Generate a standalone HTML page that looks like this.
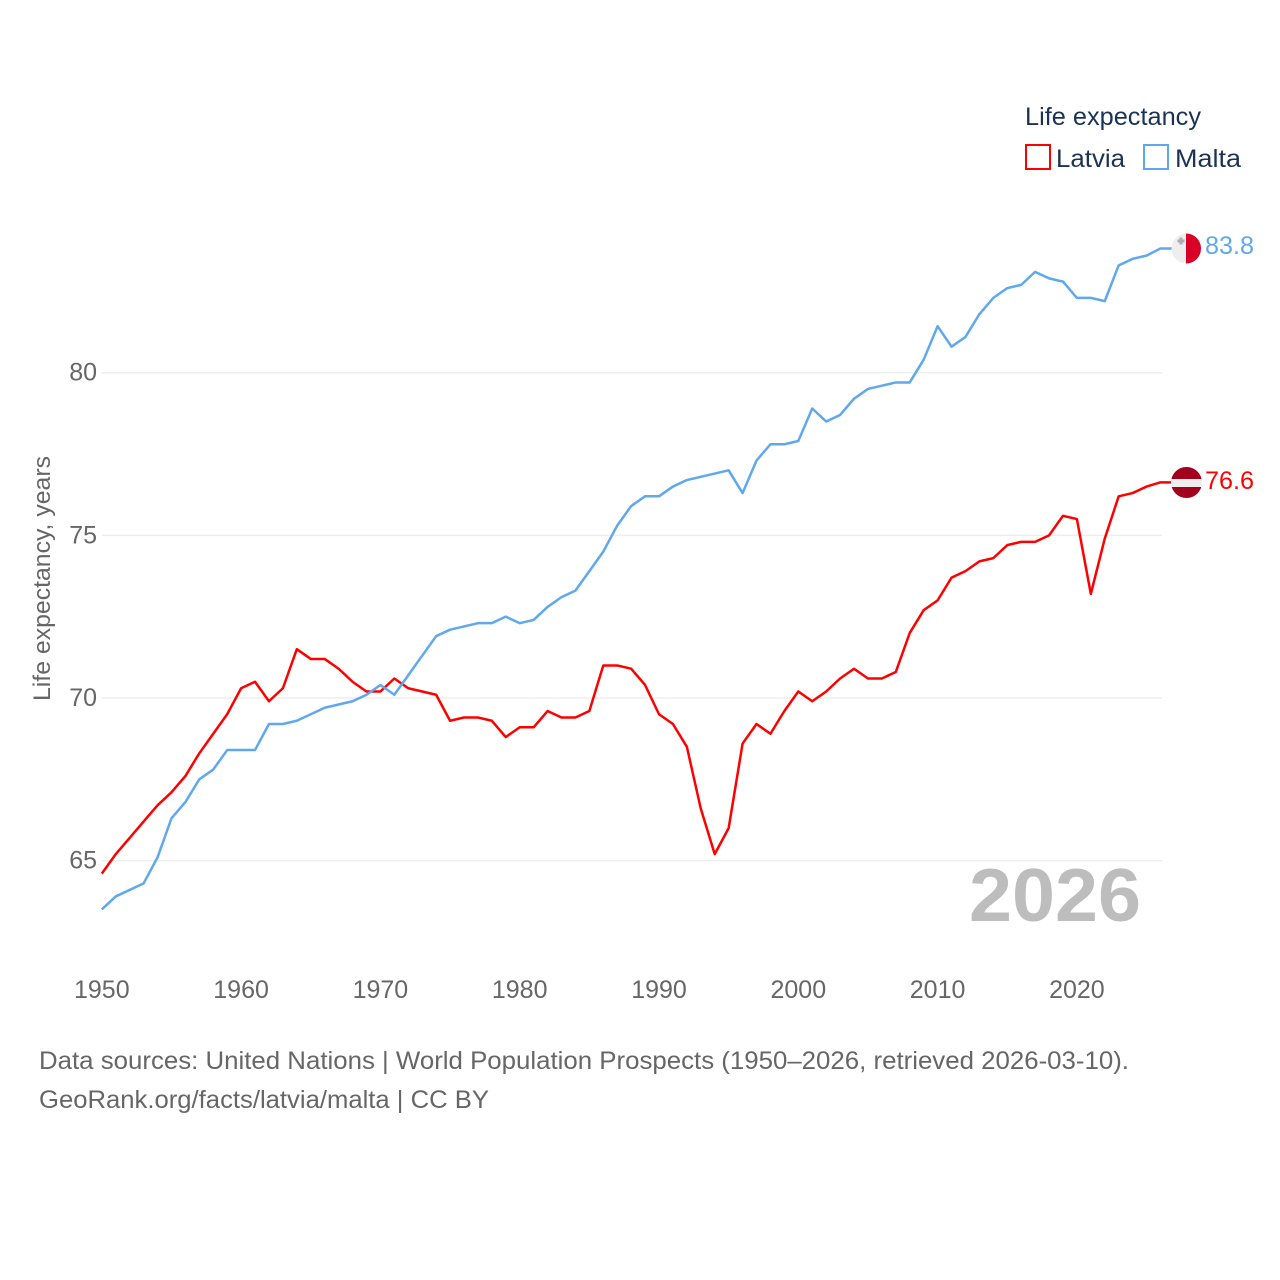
<!DOCTYPE html>
<html lang="en">
<head>
<meta charset="utf-8">
<title>Life expectancy: Latvia and Malta</title>
<style>
html,body{margin:0;padding:0;background:#fff;}
svg{display:block;font-family:"Liberation Sans",sans-serif;}
</style>
</head>
<body>
<svg id="chart" xmlns="http://www.w3.org/2000/svg" width="1280" height="1280" viewBox="0 0 1280 1280">
  <rect width="1280" height="1280" fill="#ffffff"/>
  <g id="grid"></g>
  <g id="yticks"></g>
  <g id="xticks"></g>
  <text transform="translate(50,701) rotate(-90)" font-size="24" fill="#666666" textLength="245" lengthAdjust="spacingAndGlyphs">Life expectancy, years</text>
  <text id="year-label" x="969" y="921" font-size="75" font-weight="700" fill="#bdbdbd" textLength="172" lengthAdjust="spacingAndGlyphs">2026</text>
  <g id="series"></g>
  <g>
    <circle cx="1186.5" cy="248.5" r="15" fill="#eeeeee"/>
    <path d="M1186 233.5a15 15 0 0 1 0 30z" fill="#d80027"/>
    <path d="M1179.5 237.5h3v2h2v3h-2v2h-3v-2h-2v-3h2z" fill="#acabb1"/>
  </g>
  <g>
    <circle cx="1186.5" cy="482.5" r="15.5" fill="#a2001d"/>
    <rect x="1171" y="479" width="31" height="8" fill="#eeeeee"/>
  </g>
  <text x="1205" y="254" font-size="25" fill="#5fa8ee" textLength="49" lengthAdjust="spacingAndGlyphs">83.8</text>
  <text x="1205" y="489" font-size="25" fill="#ff0000" textLength="49" lengthAdjust="spacingAndGlyphs">76.6</text>
  <g>
    <text x="1025" y="125" font-size="25" fill="#1a3355" textLength="176" lengthAdjust="spacingAndGlyphs">Life expectancy</text>
    <g>
      <rect x="1026" y="145" width="24" height="24" fill="none" stroke="#ff0000" stroke-width="2"/>
      <text x="1056" y="167" font-size="25" fill="#1a3355" textLength="69" lengthAdjust="spacingAndGlyphs">Latvia</text>
    </g>
    <g>
      <rect x="1144" y="145" width="24" height="24" fill="none" stroke="#5fa8ee" stroke-width="2"/>
      <text x="1175" y="167" font-size="25" fill="#1a3355" textLength="66" lengthAdjust="spacingAndGlyphs">Malta</text>
    </g>
  </g>
  <text x="39" y="1069" font-size="25" fill="#666666" textLength="1090" lengthAdjust="spacingAndGlyphs">Data sources: United Nations | World Population Prospects (1950–2026, retrieved 2026-03-10).</text>
  <text x="39" y="1108" font-size="25" fill="#666666" textLength="450" lengthAdjust="spacingAndGlyphs">GeoRank.org/facts/latvia/malta | CC BY</text>
</svg>
<script>
const startYear = 1950;
const latviaValues = [64.6,65.2,65.7,66.2,66.7,67.1,67.6,68.3,68.9,69.5,70.3,70.5,69.9,70.3,71.5,71.2,71.2,70.9,70.5,70.2,70.2,70.6,70.3,70.2,70.1,69.3,69.4,69.4,69.3,68.8,69.1,69.1,69.6,69.4,69.4,69.6,71,71,70.9,70.4,69.5,69.2,68.5,66.6,65.2,66,68.6,69.2,68.9,69.6,70.2,69.9,70.2,70.6,70.9,70.6,70.6,70.8,72,72.7,73,73.7,73.9,74.2,74.3,74.7,74.8,74.8,75,75.6,75.5,73.2,74.9,76.2,76.3,76.5,76.63];
const maltaValues = [63.5,63.9,64.1,64.3,65.1,66.3,66.8,67.5,67.8,68.4,68.4,68.4,69.2,69.2,69.3,69.5,69.7,69.8,69.9,70.1,70.4,70.1,70.7,71.3,71.9,72.1,72.2,72.3,72.3,72.5,72.3,72.4,72.8,73.1,73.3,73.9,74.5,75.3,75.9,76.2,76.2,76.5,76.7,76.8,76.9,77,76.3,77.3,77.8,77.8,77.9,78.9,78.5,78.7,79.2,79.5,79.6,79.7,79.7,80.4,81.43,80.8,81.1,81.8,82.3,82.6,82.7,83.1,82.9,82.8,82.3,82.3,82.2,83.3,83.5,83.6,83.82];
const yTicks = [65,70,75,80];
const xTicks = [1950,1960,1970,1980,1990,2000,2010,2020];

const NS = 'http://www.w3.org/2000/svg';
function xScale(year){ return 101.8 + (year - 1950) * 13.93; }
function yScale(v){ return 372.7 + (80 - v) * 32.53; }

const gridGroup = document.getElementById('grid');
const yGroup = document.getElementById('yticks');
const xGroup = document.getElementById('xticks');
const seriesGroup = document.getElementById('series');

yTicks.forEach(function(t){
  const line = document.createElementNS(NS,'line');
  
  
  line.setAttribute('x1', 102);
  line.setAttribute('x2', 1162);
  line.setAttribute('y1', yScale(t));
  line.setAttribute('y2', yScale(t));
  line.setAttribute('stroke', '#eeeeee');
  line.setAttribute('stroke-width', '1.5');
  gridGroup.appendChild(line);
  const label = document.createElementNS(NS,'text');
  
  
  label.setAttribute('x', 97);
  label.setAttribute('y', yScale(t) + 8);
  label.setAttribute('text-anchor', 'end');
  label.setAttribute('font-size', '25');
  label.setAttribute('fill', '#666666');
  label.textContent = t;
  yGroup.appendChild(label);
});

xTicks.forEach(function(t){
  const label = document.createElementNS(NS,'text');
  
  
  label.setAttribute('x', xScale(t));
  label.setAttribute('y', 998);
  label.setAttribute('text-anchor', 'middle');
  label.setAttribute('font-size', '25');
  label.setAttribute('fill', '#666666');
  label.textContent = t;
  xGroup.appendChild(label);
});

function points(values){
  const pts = values.map(function(v,i){ return xScale(startYear + i).toFixed(2) + ',' + yScale(v).toFixed(2); });
  pts.push('1172,' + yScale(values[values.length - 1]).toFixed(2));
  return pts.join(' ');
}

const latviaLine = document.createElementNS(NS,'polyline');


latviaLine.setAttribute('points', points(latviaValues));
latviaLine.setAttribute('fill', 'none');
latviaLine.setAttribute('stroke', '#ff0000');
latviaLine.setAttribute('stroke-width', '2.5');
latviaLine.setAttribute('stroke-linejoin', 'round');
seriesGroup.appendChild(latviaLine);

const maltaLine = document.createElementNS(NS,'polyline');


maltaLine.setAttribute('points', points(maltaValues));
maltaLine.setAttribute('fill', 'none');
maltaLine.setAttribute('stroke', '#5fa8ee');
maltaLine.setAttribute('stroke-width', '2.5');
maltaLine.setAttribute('stroke-linejoin', 'round');
seriesGroup.appendChild(maltaLine);
</script>
</body>
</html>
